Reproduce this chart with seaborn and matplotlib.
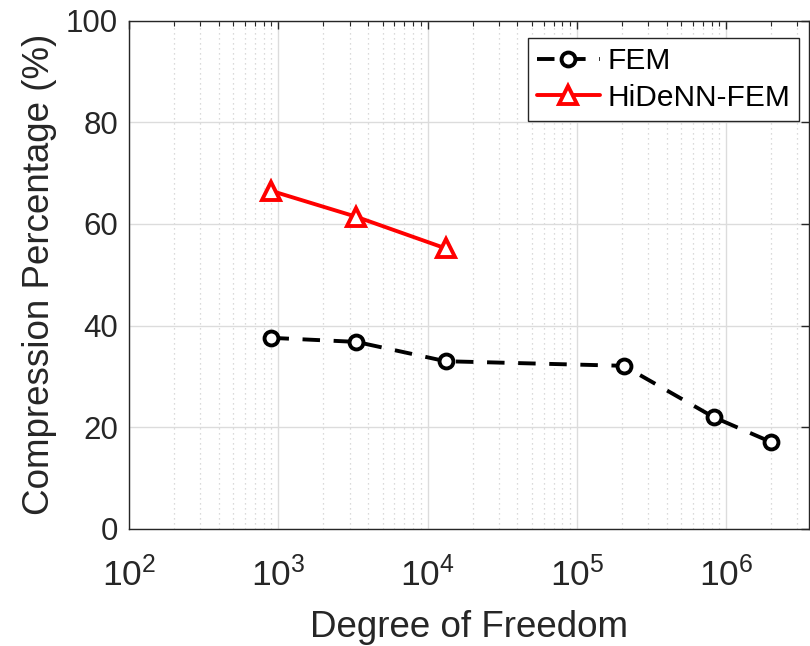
import numpy as np
import pandas as pd
import matplotlib
matplotlib.use("Agg")
import matplotlib.pyplot as plt
import seaborn as sns
from matplotlib.ticker import LogLocator, NullFormatter, MultipleLocator

# ---- data ----
fem_dof = [900, 3340, 13200, 206000, 825000, 2000000]
fem_pct = [37.6, 36.8, 33.0, 32.1, 22.0, 17.1]
hidenn_dof = [900, 3340, 13200]
hidenn_pct = [66.5, 61.4, 55.2]
series_names = ["FEM", "HiDeNN-FEM"]
x_label = "Degree of Freedom"
y_label = "Compression Percentage (%)"

sns.set_theme(style="white")
plt.rcParams['font.family'] = ['Liberation Sans', 'DejaVu Sans']
plt.rcParams['mathtext.fontset'] = 'custom'
plt.rcParams['mathtext.rm'] = 'Liberation Sans'
plt.rcParams['mathtext.it'] = 'Liberation Sans:italic'
plt.rcParams['mathtext.bf'] = 'Liberation Sans:bold'

txt = '#262626'
fig = plt.figure(figsize=(8.10, 6.46), dpi=100)
ax = fig.add_axes([129/810, 1-529/646, (809-129)/810, (529-20.6)/646])

df_fem = pd.DataFrame({"dof": fem_dof, "pct": fem_pct})
df_hid = pd.DataFrame({"dof": hidenn_dof, "pct": hidenn_pct})

sns.lineplot(data=df_fem, x="dof", y="pct", ax=ax, color='black', lw=2.8,
             marker='o', markersize=10, markerfacecolor='white', markeredgecolor='black',
             markeredgewidth=2.8, label=series_names[0], zorder=3)
ax.lines[-1].set_dashes((4.5, 3.5))
sns.lineplot(data=df_hid, x="dof", y="pct", ax=ax, color='red', lw=2.8,
             marker='^', markersize=13, markerfacecolor='white', markeredgecolor='red',
             markeredgewidth=2.8, label=series_names[1], zorder=3)

ax.set_xscale('log')
ax.set_xlim(100, 10**6.555)
ax.set_ylim(0, 100)
ax.yaxis.set_major_locator(MultipleLocator(20))
ax.xaxis.set_major_locator(LogLocator(base=10, numticks=10))
ax.xaxis.set_minor_locator(LogLocator(base=10, subs=np.arange(2, 10), numticks=20))
ax.xaxis.set_minor_formatter(NullFormatter())

ax.grid(True, which='major', axis='both', color='#dcdcdc', lw=1.0, ls='-')
ax.grid(True, which='minor', axis='x', color='#cfcfcf', lw=0.9, ls=(0, (1, 3)))
ax.set_axisbelow(True)

ax.tick_params(axis='both', which='both', direction='in', top=True, right=True,
               colors=txt)
ax.tick_params(axis='y', labelsize=22.5, pad=8)
ax.tick_params(axis='x', labelsize=25.5, pad=20)
ax.tick_params(which='major', length=6, width=1)
ax.tick_params(which='minor', length=3.5, width=0.8)
for s in ax.spines.values():
    s.set_color(txt)
    s.set_linewidth(1.0)

ax.set_xlabel(x_label, fontsize=26.5, color=txt, labelpad=12)
ax.set_ylabel(y_label, fontsize=26.5, color=txt, labelpad=6)

leg = ax.legend(loc='upper right', bbox_to_anchor=((799-129)/680, 1 - (38-20.6)/508.4),
                fontsize=21.5, frameon=True, fancybox=False, handlelength=2.1,
                borderpad=0.3, labelspacing=0.3, handletextpad=0.25, borderaxespad=0)
leg.get_frame().set_edgecolor(txt)
leg.get_frame().set_linewidth(1.0)
leg.get_frame().set_facecolor('white')
leg.get_frame().set_alpha(1)
for t in leg.get_texts():
    t.set_color('black')

fig.savefig("out.png", dpi=100)
